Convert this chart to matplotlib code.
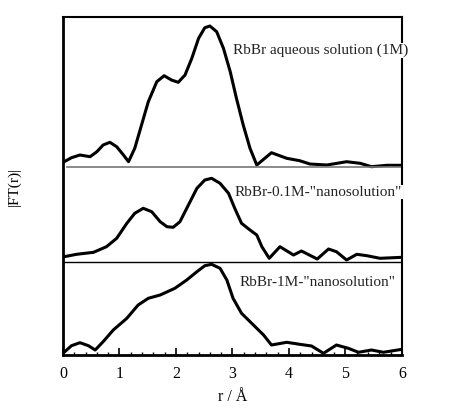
import numpy as np
import matplotlib
matplotlib.use("Agg")
import matplotlib.pyplot as plt
from matplotlib.ticker import MultipleLocator

plt.rcParams['font.family'] = ['Liberation Serif', 'DejaVu Serif']

# |FT(r)|, each curve relative to its own baseline
r_aq = [0.02, 0.15, 0.30, 0.48, 0.60, 0.71, 0.83, 0.95, 1.07, 1.16, 1.27, 1.39, 1.51,
        1.66, 1.79, 1.92, 2.04, 2.16, 2.28, 2.40, 2.51, 2.60, 2.72, 2.84, 2.96, 3.07,
        3.19, 3.31, 3.43, 3.69, 3.96, 4.19, 4.37, 4.67, 5.02, 5.26, 5.46, 5.73, 6.0]
ft_aq = [5.3, 9.3, 12, 10.3, 15.3, 22, 24.7, 20.3, 12, 5.3, 18.7, 42, 65.3,
         85.3, 91.3, 87, 84.7, 92, 108.7, 128.7, 139.3, 141, 135.3, 118.7, 95.3, 68.7,
         42, 18.7, 2, 14.3, 8.7, 6.3, 3, 2, 5.3, 3.7, 0.3, 1.7, 1.7]

r_01 = [0.02, 0.24, 0.54, 0.77, 0.95, 1.13, 1.27, 1.42, 1.57, 1.72, 1.84, 1.95, 2.07,
        2.22, 2.37, 2.51, 2.63, 2.78, 2.93, 3.04, 3.16, 3.31, 3.43, 3.52, 3.65, 3.84,
        4.08, 4.22, 4.50, 4.70, 4.84, 5.02, 5.20, 5.38, 5.61, 6.0]
ft_01 = [5.3, 7.7, 9.7, 15.3, 23.7, 38.7, 48.7, 53.7, 50.3, 40.3, 35.3, 34.7, 40.3,
         57, 73.7, 82, 83.7, 78.7, 68.7, 53.7, 38.7, 32, 27, 15.3, 3.7, 15.3,
         7, 11, 3, 13, 10.3, 2, 7.7, 6.3, 3.7, 4.7]

r_1m = [0.02, 0.15, 0.30, 0.45, 0.57, 0.71, 0.89, 1.13, 1.33, 1.51, 1.72, 1.98, 2.19,
        2.37, 2.51, 2.63, 2.78, 2.90, 3.01, 3.16, 3.34, 3.55, 3.69, 3.96, 4.19, 4.40,
        4.61, 4.84, 5.05, 5.23, 5.46, 5.67, 6.0]
ft_1m = [2.7, 9.3, 12.3, 9.3, 5, 13.3, 25, 36.7, 50, 56.7, 60, 66.7, 75,
         83.3, 89.3, 90.7, 86.7, 75, 56.7, 41.7, 31.7, 20, 10, 12.7, 10.7, 9,
         1.7, 10, 6.7, 2.7, 5, 2.7, 5.7]

labels = ['RbBr aqueous solution (1M)', 'RbBr-0.1M-"nanosolution"', 'RbBr-1M-"nanosolution"']

fig = plt.figure(figsize=(4.49, 4.08), dpi=100)
ax = fig.add_axes([0.1403, 0.1299, 0.755, 0.8284])

offsets = [188, 93, 0]
curves = [(r_aq, ft_aq), (r_01, ft_01), (r_1m, ft_1m)]
for (r, ft), off in zip(curves, offsets):
    ax.plot(r, np.array(ft) + off, color='black', lw=2.2,
            solid_joinstyle='round', solid_capstyle='round')

# baselines separating the panels
ax.plot([0.07, 6], [188, 188], color='#777777', lw=1.2)
ax.plot([0, 6], [93, 93], color='black', lw=1.0)

text_pos = [(3.01, 305), (3.04, 163), (3.12, 73)]
for lab, (x, y) in zip(labels, text_pos):
    ax.text(x, y, lab, fontsize=11, va='center', ha='left', clip_on=False,
            color='#222222',
            bbox=dict(facecolor='white', edgecolor='none', pad=0.5), zorder=5)

ax.set_xlim(0, 6)
ax.set_ylim(0, 338)
ax.set_yticks([])
ax.xaxis.set_major_locator(MultipleLocator(1))
ax.xaxis.set_minor_locator(MultipleLocator(0.2))
ax.tick_params(axis='x', which='major', direction='in', length=5, width=1.2,
               labelsize=11.5, pad=8)
ax.tick_params(axis='x', which='minor', direction='in', length=2.5, width=1.0)
for side in ['left', 'bottom']:
    ax.spines[side].set_linewidth(2.0)
for side in ['top', 'right']:
    ax.spines[side].set_linewidth(1.5)

ax.set_xlabel('r / Å', fontsize=11.5, labelpad=5)
ax.set_ylabel('|FT(r)|', fontsize=11, labelpad=30)

fig.savefig('out.png', dpi=100)
